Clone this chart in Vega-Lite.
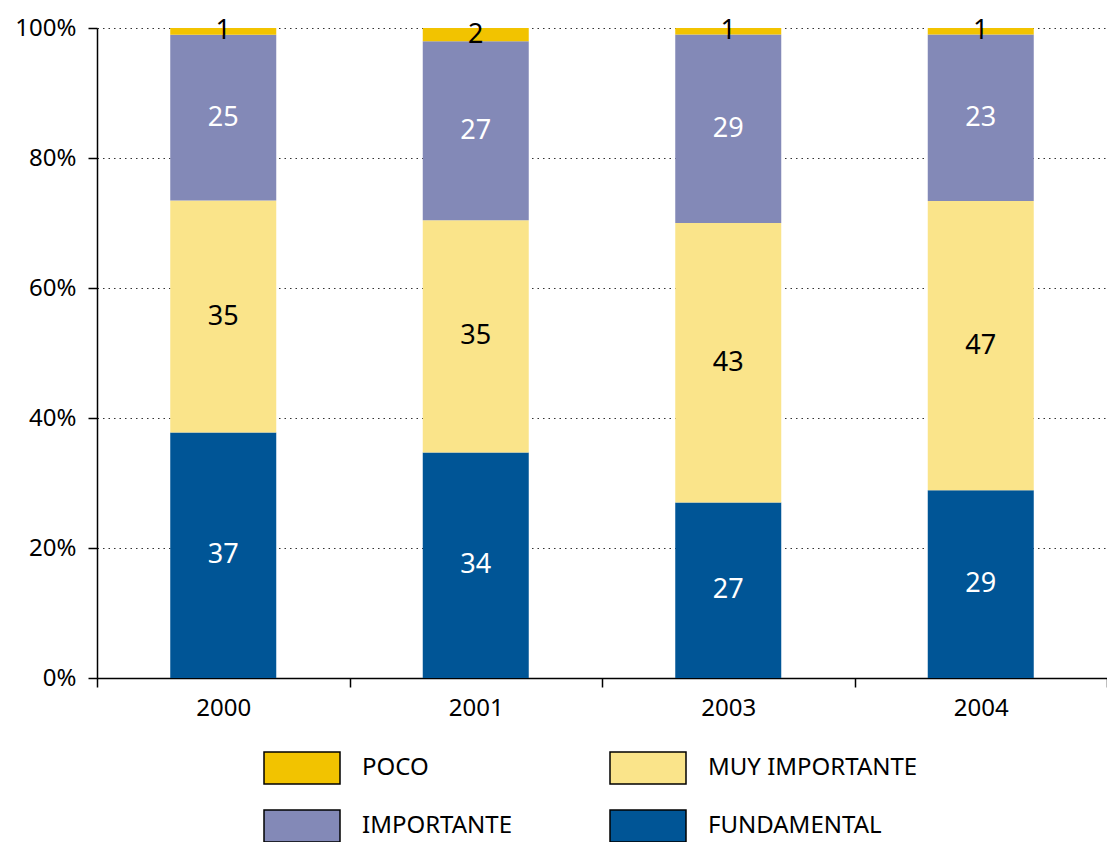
{
  "$schema": "https://vega.github.io/schema/vega-lite/v6.json",
  "autosize": "none",
  "padding": {"left": 97, "top": 28, "right": 0, "bottom": 164},
  "width": 1010,
  "height": 650,
  "config": {
    "font": "Noto Sans",
    "view": {"stroke": null},
    "axis": {"labelFont": "Noto Sans", "labelFontSize": 24, "labelColor": "#000", "domainColor": "#000", "tickColor": "#000", "domainWidth": 1.5, "tickWidth": 1.5, "tickSize": 9}
  },
  "data": {
    "values": [
      {"anio": "2000", "cat": "FUNDAMENTAL", "orden": 1, "altura": 37, "etiqueta": 37},
      {"anio": "2000", "cat": "MUY IMPORTANTE", "orden": 2, "altura": 35, "etiqueta": 35},
      {"anio": "2000", "cat": "IMPORTANTE", "orden": 3, "altura": 25, "etiqueta": 25},
      {"anio": "2000", "cat": "POCO", "orden": 4, "altura": 1, "etiqueta": 1},
      {"anio": "2001", "cat": "FUNDAMENTAL", "orden": 1, "altura": 34, "etiqueta": 34},
      {"anio": "2001", "cat": "MUY IMPORTANTE", "orden": 2, "altura": 35, "etiqueta": 35},
      {"anio": "2001", "cat": "IMPORTANTE", "orden": 3, "altura": 27, "etiqueta": 27},
      {"anio": "2001", "cat": "POCO", "orden": 4, "altura": 2, "etiqueta": 2},
      {"anio": "2003", "cat": "FUNDAMENTAL", "orden": 1, "altura": 27, "etiqueta": 27},
      {"anio": "2003", "cat": "MUY IMPORTANTE", "orden": 2, "altura": 43, "etiqueta": 43},
      {"anio": "2003", "cat": "IMPORTANTE", "orden": 3, "altura": 29, "etiqueta": 29},
      {"anio": "2003", "cat": "POCO", "orden": 4, "altura": 1, "etiqueta": 1},
      {"anio": "2004", "cat": "FUNDAMENTAL", "orden": 1, "altura": 28.9, "etiqueta": 29},
      {"anio": "2004", "cat": "MUY IMPORTANTE", "orden": 2, "altura": 44.5, "etiqueta": 47},
      {"anio": "2004", "cat": "IMPORTANTE", "orden": 3, "altura": 25.6, "etiqueta": 23},
      {"anio": "2004", "cat": "POCO", "orden": 4, "altura": 1, "etiqueta": 1}
    ]
  },
  "encoding": {
    "x": {
      "field": "anio", "type": "nominal", "title": null,
      "scale": {"paddingInner": 0, "paddingOuter": 0},
      "axis": {"labelAngle": 0, "tickBand": "extent", "labelPadding": 9}
    },
    "y": {
      "field": "altura", "type": "quantitative", "stack": "normalize", "title": null,
      "scale": {"domain": [0, 1], "nice": false},
      "axis": {"values": [0, 0.2, 0.4, 0.6, 0.8, 1], "format": ".0%", "grid": true, "gridDash": [1.5, 4], "gridColor": "#333", "gridWidth": 1.2, "labelPadding": 12}
    },
    "order": {"field": "orden", "type": "quantitative", "sort": "ascending"}
  },
  "layer": [
    {
      "mark": {"type": "bar", "width": 106},
      "encoding": {
        "color": {
          "field": "cat", "type": "nominal",
          "scale": {"domain": ["POCO", "IMPORTANTE", "MUY IMPORTANTE", "FUNDAMENTAL"], "range": ["#F2C300", "#8389B7", "#FAE48A", "#005596"]},
          "legend": {
            "title": null, "orient": "none", "legendX": 166, "legendY": 701, "columns": 2, "padding": 0,
            "symbolType": "M-1,-0.42H1V0.42H-1Z", "symbolSize": 5776, "symbolStrokeColor": "#000", "symbolStrokeWidth": 1.5, "symbolFillOpacity": 1,
            "labelFont": "Noto Sans", "labelFontSize": 24, "labelColor": "#000", "labelOffset": 21,
            "columnPadding": 94, "rowPadding": -18, "labelLimit": 400
          }
        }
      }
    },
    {
      "mark": {"type": "text", "fontSize": 27, "baseline": "middle", "align": "center"},
      "encoding": {
        "y": {"field": "altura", "type": "quantitative", "stack": "normalize", "bandPosition": 0.5},
        "text": {"field": "etiqueta", "type": "quantitative"},
        "color": {
          "condition": {"test": "datum.cat === 'FUNDAMENTAL' || datum.cat === 'IMPORTANTE'", "value": "#ffffff"},
          "value": "#000000"
        }
      }
    }
  ]
}
